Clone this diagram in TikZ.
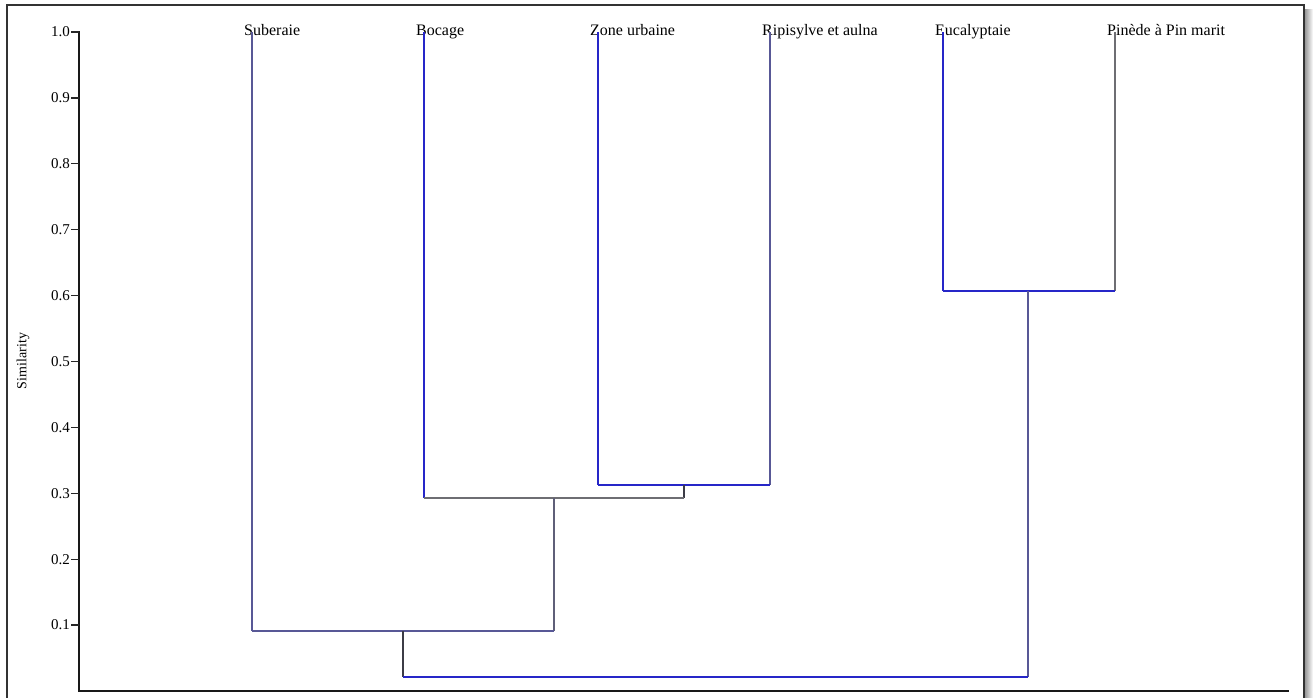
\documentclass[tikz,border=0pt]{standalone}
\usepackage{fontspec}
\setmainfont{Liberation Serif}
\definecolor{dkblue}{RGB}{38,38,200}
\definecolor{slate}{RGB}{88,88,150}
\definecolor{slategray}{RGB}{95,95,120}
\definecolor{midgray}{RGB}{110,110,115}
\definecolor{dkgray}{RGB}{60,60,70}
\begin{document}
\begin{tikzpicture}[x=1pt,y=-1pt,
  leaf/.style={anchor=base west,inner sep=0pt,font=\fontsize{16}{18}\selectfont,text=black},
  ticklab/.style={anchor=east,inner sep=1pt,font=\fontsize{15}{17}\selectfont,text=black},
  bluel/.style={draw=dkblue,line width=2pt},
  slatel/.style={draw=slate,line width=1.6pt},
  sgrayl/.style={draw=slategray,line width=1.6pt},
  grayl/.style={draw=midgray,line width=1.6pt},
  dkl/.style={draw=dkgray,line width=1.6pt},
  axisl/.style={draw=black!90,line width=2.2pt},
  tickl/.style={draw=black!85,line width=1.3pt}]
\useasboundingbox (0,0) rectangle (1314,697);
\clip (0,0) rectangle (1314,697);
% frame and shadow
\shade[left color=black!45,right color=white] (1304,9) rectangle (1313,720);
\draw[line width=1.3pt,draw=black!80,fill=white] (7,5) rectangle (1304,720);
% axis
\draw[axisl] (79,31) -- (79,691) -- (1289,691);
\foreach \v/\lab in {1.0/1.0,0.9/0.9,0.8/0.8,0.7/0.7,0.6/0.6,0.5/0.5,0.4/0.4,0.3/0.3,0.2/0.2,0.1/0.1}{
  \pgfmathsetmacro{\yy}{32+(1-\v)*659}
  \draw[tickl] (71,\yy) -- (79,\yy);
  \node[ticklab] at (71,\yy) {\lab};
}
\node[rotate=90,inner sep=0pt,font=\fontsize{14}{16}\selectfont,text=black] (ylab) at (23,361) {Similarity};
% leaf labels
\node[leaf] (sub) at (244,35) {Suberaie};
\node[leaf] (boc) at (416,35) {Bocage};
\node[leaf] (zon) at (590,35) {Zone urbaine};
\node[leaf] (rip) at (762,35) {Ripisylve et aulna};
\node[leaf] (euc) at (935,35) {Eucalyptaie};
\node[leaf] (pin) at (1107,35) {Pinède à Pin marit};
% leaf tops
\coordinate (sub-t) at (252,32);
\coordinate (boc-t) at (424,32);
\coordinate (zon-t) at (598,32);
\coordinate (rip-t) at (770,32);
\coordinate (euc-t) at (943,32);
\coordinate (pin-t) at (1115,32);
% merge coordinates
\coordinate (zr-l) at (598,485); \coordinate (zr-r) at (770,485); \coordinate (zr-c) at (684,485);
\coordinate (bz-l) at (424,498); \coordinate (bz-r) at (684,498); \coordinate (bz-c) at (554,498);
\coordinate (sb-l) at (252,631); \coordinate (sb-r) at (554,631); \coordinate (sb-c) at (403,631);
\coordinate (ep-l) at (943,291); \coordinate (ep-r) at (1115,291); \coordinate (ep-c) at (1028,291);
\coordinate (rt-l) at (403,677); \coordinate (rt-r) at (1028,677);
% dendrogram
\draw[slatel] (rip-t) -- (zr-r);
\draw[bluel] (zon-t) -- (zr-l);
\draw[bluel] (zr-l) -- (zr-r);
\draw[dkl] (zr-c) -- (bz-r);
\draw[bluel] (boc-t) -- (bz-l);
\draw[grayl] (bz-l) -- (bz-r);
\draw[sgrayl] (bz-c) -- (sb-r);
\draw[slatel] (sub-t) -- (sb-l);
\draw[slatel] (sb-l) -- (sb-r);
\draw[dkl] (sb-c) -- (rt-l);
\draw[grayl] (pin-t) -- (ep-r);
\draw[bluel] (euc-t) -- (ep-l);
\draw[bluel] (ep-l) -- (ep-r);
\draw[slatel] (ep-c) -- (rt-r);
\draw[bluel] (rt-l) -- (rt-r);
\end{tikzpicture}
\end{document}
